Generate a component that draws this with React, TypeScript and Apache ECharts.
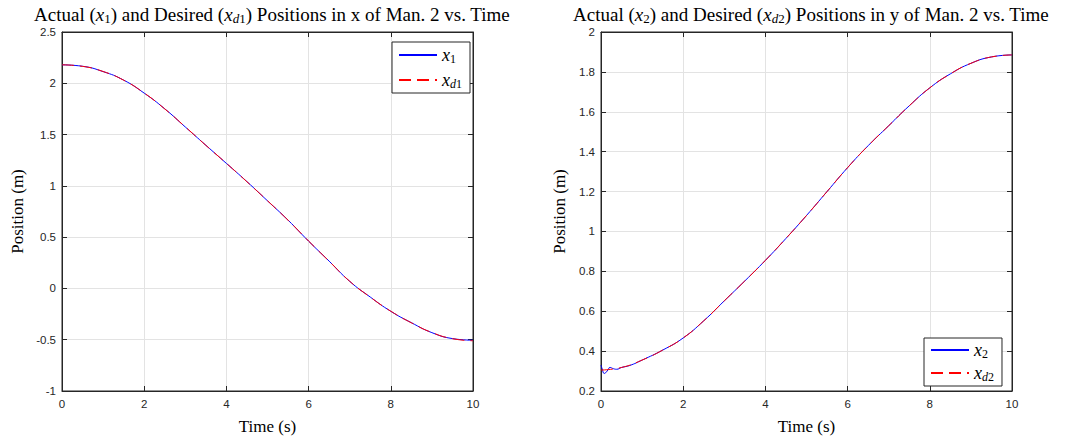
import React, { useEffect, useRef } from "react";
import * as echarts from "echarts";

// ---- Data ----
const TIME = [0, 0.5, 1, 1.5, 2, 2.5, 3, 3.5, 4, 4.5, 5, 5.5, 6, 6.5, 7, 7.5, 8, 8.5, 9, 9.5, 10];

// Left plot: x position of manipulator 2
const X_D1 = [2.18, 2.165, 2.115, 2.03, 1.905, 1.75, 1.575, 1.395, 1.22, 1.04, 0.855, 0.665, 0.462, 0.265, 0.07, -0.085, -0.222, -0.335, -0.43, -0.49, -0.51];
const X_1 = [2.18, 2.166, 2.114, 2.031, 1.904, 1.751, 1.574, 1.396, 1.219, 1.041, 0.854, 0.666, 0.461, 0.266, 0.069, -0.084, -0.223, -0.334, -0.431, -0.489, -0.505];

// Right plot: y position of manipulator 2
const X_D2 = [0.305, 0.318, 0.355, 0.405, 0.466, 0.552, 0.652, 0.752, 0.855, 0.965, 1.08, 1.2, 1.32, 1.43, 1.53, 1.63, 1.72, 1.79, 1.843, 1.875, 1.885];
const TIME_2 = [0, 0.03, 0.08, 0.15, 0.22, 0.3, 0.38, 0.5, 0.7, 1, 1.5, 2, 2.5, 3, 3.5, 4, 4.5, 5, 5.5, 6, 6.5, 7, 7.5, 8, 8.5, 9, 9.5, 10];
const X_2 = [0.33, 0.31, 0.288, 0.3, 0.318, 0.312, 0.309, 0.318, 0.328, 0.355, 0.405, 0.466, 0.552, 0.652, 0.752, 0.855, 0.965, 1.08, 1.2, 1.32, 1.43, 1.53, 1.63, 1.72, 1.79, 1.843, 1.875, 1.885];

const pairs = (t: number[], v: number[]) => t.map((x, i) => [x, v[i]]);

const SERIF = "'Liberation Serif', 'Times New Roman', serif";
const SANS = "'Liberation Sans', Arial, Helvetica, sans-serif";
const AX = "#262626";
const GRIDC = "#e3e3e3";

const TFS = 19;
const richMath = {
  n: { fontFamily: SERIF, fontSize: TFS, fontWeight: "normal", color: "#000" },
  i: { fontFamily: SERIF, fontSize: TFS, fontStyle: "italic", fontWeight: "normal", color: "#000" },
  s: { fontFamily: SERIF, fontSize: 13, fontStyle: "italic", fontWeight: "normal", color: "#000", padding: [8, 0, 0, 0] },
  r: { fontFamily: SERIF, fontSize: 13, fontWeight: "normal", color: "#000", padding: [8, 0, 0, 0] },
};

const legRich = {
  i: { fontFamily: SERIF, fontSize: 18, fontStyle: "italic", color: "#000" },
  s: { fontFamily: SERIF, fontSize: 12, fontStyle: "italic", color: "#000", padding: [8, 0, 0, 0] },
  r: { fontFamily: SERIF, fontSize: 12, color: "#000", padding: [8, 0, 0, 0] },
};

function mainX(gi: number) {
  return {
    type: "value",
    gridIndex: gi,
    min: 0,
    max: 10,
    interval: 2,
    name: "Time (s)",
    nameLocation: "middle",
    nameGap: 27,
    nameTextStyle: { fontFamily: SERIF, fontSize: 17, color: "#000" },
    axisLine: { show: true, onZero: false, lineStyle: { color: AX, width: 1 } },
    axisTick: { show: true, inside: true, length: 5, lineStyle: { color: AX } },
    axisLabel: { fontFamily: SANS, fontSize: 11.5, color: AX, margin: 7 },
    splitLine: { show: true, lineStyle: { color: GRIDC, width: 1 } },
  };
}
function topX(gi: number) {
  return {
    type: "value",
    gridIndex: gi,
    position: "top",
    min: 0,
    max: 10,
    interval: 2,
    axisLine: { show: true, onZero: false, lineStyle: { color: AX, width: 1 } },
    axisTick: { show: true, inside: true, length: 5, lineStyle: { color: AX } },
    axisLabel: { show: false },
    splitLine: { show: false },
  };
}
function mainY(gi: number, min: number, max: number, interval: number) {
  return {
    type: "value",
    gridIndex: gi,
    min,
    max,
    interval,
    name: "Position (m)",
    nameLocation: "middle",
    nameGap: gi === 0 ? 36 : 33,
    nameRotate: 90,
    nameTextStyle: { fontFamily: SERIF, fontSize: 17, color: "#000" },
    axisLine: { show: true, onZero: false, lineStyle: { color: AX, width: 1 } },
    axisTick: { show: true, inside: true, length: 5, lineStyle: { color: AX } },
    axisLabel: {
      fontFamily: SANS,
      fontSize: 11.5,
      color: AX,
      margin: 6,
      formatter: (v: number) => String(parseFloat(v.toFixed(2))),
    },
    splitLine: { show: true, lineStyle: { color: GRIDC, width: 1 } },
  };
}
function rightY(gi: number, min: number, max: number, interval: number) {
  return {
    type: "value",
    gridIndex: gi,
    position: "right",
    min,
    max,
    interval,
    axisLine: { show: true, onZero: false, lineStyle: { color: AX, width: 1 } },
    axisTick: { show: true, inside: true, length: 5, lineStyle: { color: AX } },
    axisLabel: { show: false },
    splitLine: { show: false },
  };
}

function lineSeries(name: string, xi: number, t: number[], v: number[], color: string, dashed: boolean) {
  return {
    name,
    type: "line",
    xAxisIndex: xi,
    yAxisIndex: xi,
    data: pairs(t, v),
    smooth: 0.5,
    showSymbol: false,
    symbol: "none",
    color,
    lineStyle: { color, width: 1, type: dashed ? [12, 6] : "solid" },
  };
}

export default function App() {
  const ref = useRef<HTMLDivElement>(null);
  useEffect(() => {
    if (!ref.current) return;
    const chart = echarts.init(ref.current, undefined, { renderer: "svg" });
    const legendBase = {
      orient: "vertical",
      itemWidth: 38,
      itemHeight: 10,
      borderColor: AX,
      borderWidth: 1,
      backgroundColor: "#fff",
      itemStyle: { opacity: 0 },
      textStyle: { rich: legRich },
    };
    const option: any = {
      animation: false,
      backgroundColor: "#fff",
      title: [
        {
          text: "{n|Actual (}{i|x}{r|1}{n|) and Desired (}{i|x}{s|d}{r|1}{n|) Positions in x of Man. 2 vs. Time}",
          left: 267,
          top: -1,
          textAlign: "center",
          textStyle: { fontWeight: "normal", rich: richMath },
        },
        {
          text: "{n|Actual (}{i|x}{r|2}{n|) and Desired (}{i|x}{s|d}{r|2}{n|) Positions in y of Man. 2 vs. Time}",
          left: 806,
          top: -1,
          textAlign: "center",
          textStyle: { fontWeight: "normal", rich: richMath },
        },
      ],
      grid: [
        { left: 62, right: 594, top: 32, bottom: 42, show: true, borderColor: AX, borderWidth: 1, backgroundColor: "#fff" },
        { left: 601, right: 55, top: 32, bottom: 42, show: true, borderColor: AX, borderWidth: 1, backgroundColor: "#fff" },
      ],
      xAxis: [mainX(0), mainX(1), topX(0), topX(1)],
      yAxis: [mainY(0, -1, 2.5, 0.5), mainY(1, 0.2, 2, 0.2), rightY(0, -1, 2.5, 0.5), rightY(1, 0.2, 2, 0.2)],
      legend: [
        {
          ...legendBase,
          data: ["x1", "xd1"],
          right: 597,
          top: 42,
          itemGap: 6,
          padding: [4, 8, 3, 6],
          formatter: (name: string) => (name === "x1" ? "{i|x}{r|1}" : "{i|x}{s|d}{r|1}"),
        },
        {
          ...legendBase,
          data: ["x2", "xd2"],
          right: 65,
          top: 338,
          itemGap: 4,
          padding: [3, 8, 3, 6],
          formatter: (name: string) => (name === "x2" ? "{i|x}{r|2}" : "{i|x}{s|d}{r|2}"),
        },
      ],
      series: [
        lineSeries("x1", 0, TIME, X_1, "#0000ff", false),
        lineSeries("xd1", 0, TIME, X_D1, "#ff0000", true),
        lineSeries("x2", 1, TIME_2, X_2, "#0000ff", false),
        lineSeries("xd2", 1, TIME, X_D2, "#ff0000", true),
      ],
    };
    chart.setOption(option);
    return () => chart.dispose();
  }, []);
  return (
    <div
      ref={ref}
      style={{ position: "absolute", left: 0, top: 0, width: 1067, height: 440 }}
    />
  );
}
